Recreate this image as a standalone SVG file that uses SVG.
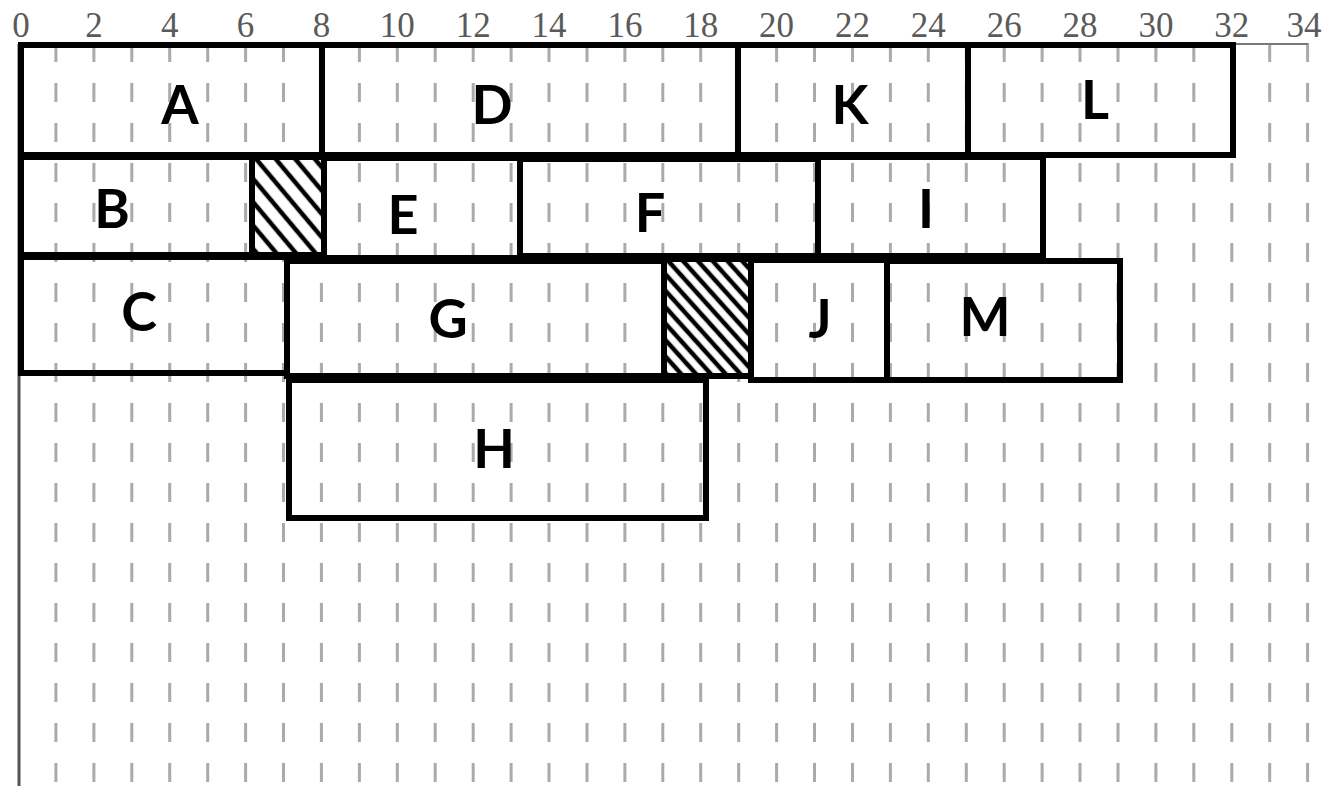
<svg xmlns="http://www.w3.org/2000/svg" width="1338" height="786" viewBox="0 0 1338 786">
<style>
.lbl{font-family:"Liberation Serif","Times New Roman",serif;font-size:35px;fill:#5a5a5a;text-anchor:middle}
.grid line{stroke:#aaa;stroke-width:3;stroke-dasharray:19 21}
.box{fill:none;stroke:#000;stroke-width:6}
.hbox{stroke:#000;stroke-width:6}
.t{font-family:"Lato","DejaVu Sans",sans-serif;font-weight:700;font-size:54px;fill:#000;text-anchor:middle}
</style>
<defs>
<pattern id="hatch1" patternUnits="userSpaceOnUse" width="15" height="15" patternTransform="rotate(-40)">
<rect width="15" height="15" fill="#fff"/>
<line x1="4" y1="0" x2="4" y2="15" stroke="#000" stroke-width="4.5"/>
</pattern>
<pattern id="hatch2" patternUnits="userSpaceOnUse" width="11" height="11" patternTransform="rotate(-42)">
<rect width="11" height="11" fill="#fff"/>
<line x1="3" y1="0" x2="3" y2="11" stroke="#000" stroke-width="4.5"/>
</pattern>
</defs>
<rect width="1338" height="786" fill="#fff"/>
<g id="grid" class="grid">
<line x1="55.9" y1="43" x2="55.9" y2="786"/>
<line x1="93.9" y1="43" x2="93.9" y2="786"/>
<line x1="131.8" y1="43" x2="131.8" y2="786"/>
<line x1="169.7" y1="43" x2="169.7" y2="786"/>
<line x1="207.7" y1="43" x2="207.7" y2="786"/>
<line x1="245.6" y1="43" x2="245.6" y2="786"/>
<line x1="283.5" y1="43" x2="283.5" y2="786"/>
<line x1="321.4" y1="43" x2="321.4" y2="786"/>
<line x1="359.4" y1="43" x2="359.4" y2="786"/>
<line x1="397.3" y1="43" x2="397.3" y2="786"/>
<line x1="435.2" y1="43" x2="435.2" y2="786"/>
<line x1="473.2" y1="43" x2="473.2" y2="786"/>
<line x1="511.1" y1="43" x2="511.1" y2="786"/>
<line x1="549" y1="43" x2="549" y2="786"/>
<line x1="587" y1="43" x2="587" y2="786"/>
<line x1="624.9" y1="43" x2="624.9" y2="786"/>
<line x1="662.8" y1="43" x2="662.8" y2="786"/>
<line x1="700.7" y1="43" x2="700.7" y2="786"/>
<line x1="738.7" y1="43" x2="738.7" y2="786"/>
<line x1="776.6" y1="43" x2="776.6" y2="786"/>
<line x1="814.5" y1="43" x2="814.5" y2="786"/>
<line x1="852.5" y1="43" x2="852.5" y2="786"/>
<line x1="890.4" y1="43" x2="890.4" y2="786"/>
<line x1="928.3" y1="43" x2="928.3" y2="786"/>
<line x1="966.3" y1="43" x2="966.3" y2="786"/>
<line x1="1004.2" y1="43" x2="1004.2" y2="786"/>
<line x1="1042.1" y1="43" x2="1042.1" y2="786"/>
<line x1="1080" y1="43" x2="1080" y2="786"/>
<line x1="1118" y1="43" x2="1118" y2="786"/>
<line x1="1155.9" y1="43" x2="1155.9" y2="786"/>
<line x1="1193.8" y1="43" x2="1193.8" y2="786"/>
<line x1="1231.8" y1="43" x2="1231.8" y2="786"/>
<line x1="1269.7" y1="43" x2="1269.7" y2="786"/>
<line x1="1307.6" y1="43" x2="1307.6" y2="786"/>
</g>
<g id="axis">
<line x1="18" y1="44" x2="1308" y2="44" stroke="#777" stroke-width="2"/>
<line x1="19" y1="44" x2="19" y2="786" stroke="#555" stroke-width="3"/>
<text class="lbl" x="21" y="37">0</text>
<text class="lbl" x="93.9" y="37">2</text>
<text class="lbl" x="169.7" y="37">4</text>
<text class="lbl" x="245.6" y="37">6</text>
<text class="lbl" x="321.4" y="37">8</text>
<text class="lbl" x="397.3" y="37">10</text>
<text class="lbl" x="473.2" y="37">12</text>
<text class="lbl" x="549" y="37">14</text>
<text class="lbl" x="624.9" y="37">16</text>
<text class="lbl" x="700.7" y="37">18</text>
<text class="lbl" x="776.6" y="37">20</text>
<text class="lbl" x="852.5" y="37">22</text>
<text class="lbl" x="928.3" y="37">24</text>
<text class="lbl" x="1004.2" y="37">26</text>
<text class="lbl" x="1080" y="37">28</text>
<text class="lbl" x="1155.9" y="37">30</text>
<text class="lbl" x="1231.8" y="37">32</text>
<text class="lbl" x="1304" y="37">34</text>
</g>
<g id="connectors"></g>
<g id="node-A"><rect class="box" x="21" y="45" width="301" height="110"/><text class="t" x="180" y="124">A</text></g>
<g id="node-D"><rect class="box" x="322" y="45" width="416" height="110"/><text class="t" x="492" y="124">D</text></g>
<g id="node-K"><rect class="box" x="738" y="45" width="230" height="110"/><text class="t" x="850" y="124">K</text></g>
<g id="node-L"><rect class="box" x="968" y="45" width="265" height="110"/><text class="t" x="1095" y="119">L</text></g>
<g id="node-B"><rect class="box" x="21" y="157" width="231" height="98"/><text class="t" x="112" y="228">B</text></g>
<g id="hatch-1"><rect class="hbox" x="252" y="157" width="72" height="98" fill="url(#hatch1)"/></g>
<g id="node-E"><rect class="box" x="324" y="158" width="196" height="100"/><text class="t" x="403" y="234">E</text></g>
<g id="node-F"><rect class="box" x="520" y="159" width="298" height="97"/><text class="t" x="650" y="232">F</text></g>
<g id="node-I"><rect class="box" x="818" y="157" width="225" height="99"/><text class="t" x="926" y="228">I</text></g>
<g id="node-C"><rect class="box" x="21" y="257" width="266" height="116"/><text class="t" x="139" y="331">C</text></g>
<g id="node-G"><rect class="box" x="287" y="261" width="377" height="115"/><text class="t" x="448" y="338">G</text></g>
<g id="hatch-2"><rect class="hbox" x="664" y="259" width="87" height="117" fill="url(#hatch2)"/></g>
<g id="node-J"><rect class="box" x="751" y="260" width="136" height="120"/><text class="t" x="820" y="338">J</text></g>
<g id="node-M"><rect class="box" x="887" y="261" width="233" height="119"/><text class="t" x="985" y="336">M</text></g>
<g id="node-H"><rect class="box" x="289" y="380" width="417" height="138"/><text class="t" x="494" y="468">H</text></g>
</svg>
